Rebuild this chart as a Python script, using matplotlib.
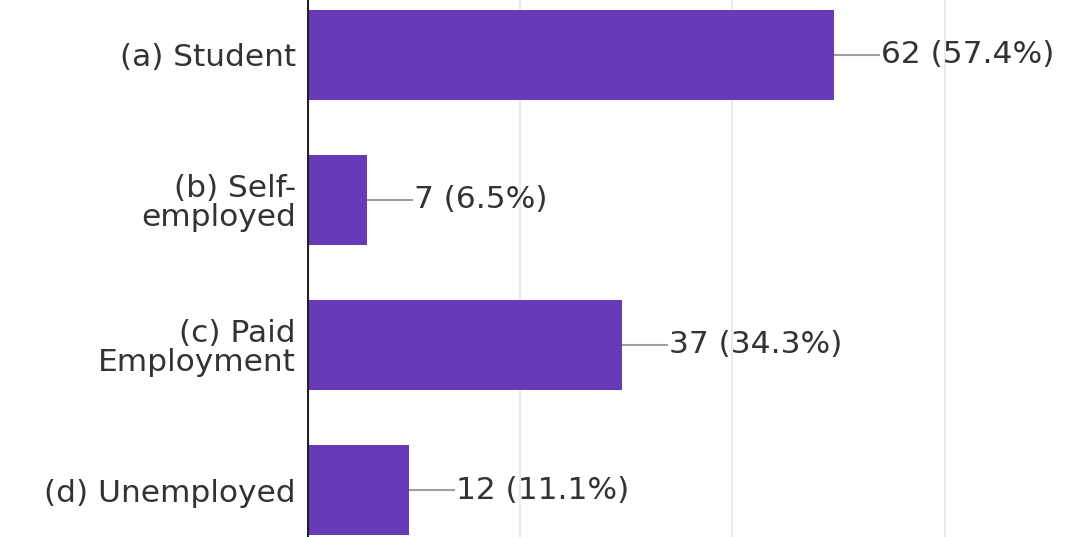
import matplotlib
matplotlib.use("Agg")
import matplotlib.pyplot as plt

categories = ["(a) Student", "(b) Self-\nemployed", "(c) Paid\nEmployment", "(d) Unemployed"]
counts = [62, 7, 37, 12]
percents = [57.4, 6.5, 34.3, 11.1]
grid_ticks = [25, 50, 75]

plt.rcParams['font.family'] = ['DejaVu Sans']

fig = plt.figure(figsize=(10.78, 5.37), dpi=100)
ax = fig.add_axes([307/1078, 0, 1 - 307/1078, 1])

ypos = list(range(len(categories)))
ax.barh(ypos, counts, height=0.62, color="#673ab7", zorder=3)
ax.set_xlim(0, 90.7)
ax.set_ylim(3.324, -0.379)

for x in grid_ticks:
    ax.axvline(x, color="#e6e6e6", lw=1.2, zorder=1)
ax.axvline(0, color="#222222", lw=3, zorder=4)

for y, c, p in zip(ypos, counts, percents):
    ax.plot([c, c + 45/8.5], [y, y], color="#9e9e9e", lw=1.5, zorder=2)
    ax.text(c + 47/8.5, y, f"{c} ({p}%)", va="center", ha="left",
            fontsize=22.5, color="#333333")

ax.set_yticks(ypos)
ax.set_yticklabels(categories, fontsize=22.5, color="#333333", linespacing=1.0)
ax.tick_params(axis="y", length=0, pad=8)
ax.set_xticks([])
for s in ax.spines.values():
    s.set_visible(False)

fig.savefig("out.png", dpi=100)
